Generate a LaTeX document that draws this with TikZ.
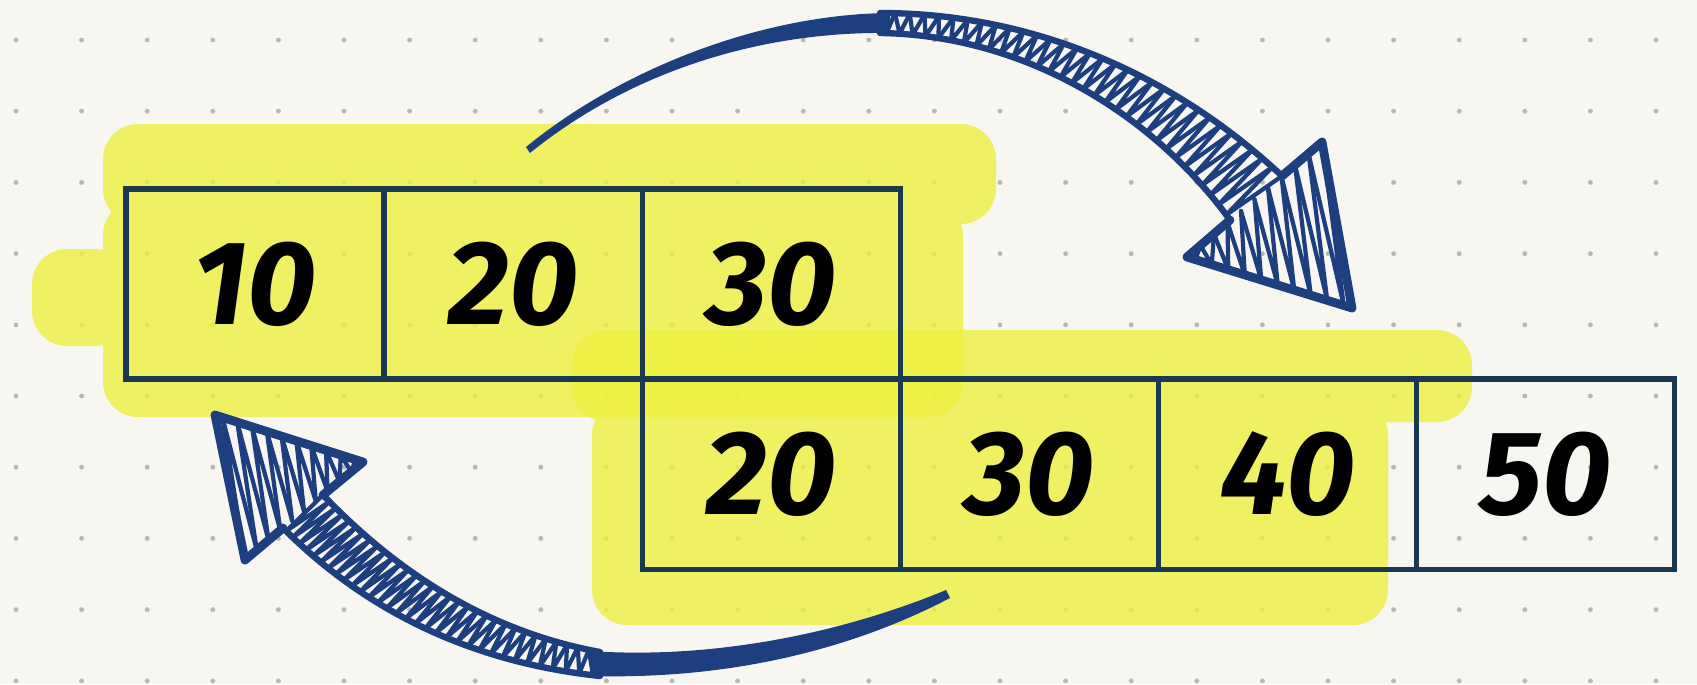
\documentclass[tikz,border=0pt]{standalone}
\usepackage{fontspec}
\newfontfamily\handfont{Fira Sans}
\usetikzlibrary{positioning, calc}
\definecolor{paper}{HTML}{F7F6F1}
\definecolor{griddot}{HTML}{B8B8B8}
\definecolor{marker}{HTML}{EDF040}
\definecolor{inkbox}{HTML}{1A3850}
\definecolor{inkarrow}{HTML}{1D3F80}

\begin{document}
\begin{tikzpicture}[
    x=0.01cm, y=-0.01cm,
    cell/.style={draw=inkbox, line width=1.5pt, outer sep=0pt, inner sep=0pt, minimum width=2.58cm, minimum height=1.9cm, font=\handfont\bfseries\itshape\fontsize{34}{40}\selectfont},
    highlight/.style={fill=marker, fill opacity=0.8, rounded corners=10pt},
    edge/.style={draw=inkarrow, line width=1.8pt, line cap=round},
    hatch/.style={draw=inkarrow, line width=1.2pt, line cap=round, line join=round},
    head/.style={draw=inkarrow, line width=2.5pt, line join=round, line cap=round},
]
    % paper with dot grid
    \fill[paper, use as bounding box] (0,0) rectangle (1697,684);
    \foreach \i in {0,...,25}
        \foreach \j in {0,...,9}
            \fill[griddot] (16+65.6*\i, 40+71.2*\j) circle[radius=0.7pt];

    % marker strokes
    \fill[highlight] (103,124) rectangle (996,224) (103,200) rectangle (963,417) (32,249) rectangle (130,346);
    \fill[highlight] (572,330) rectangle (1472,422) (592,400) rectangle (1388,625);

    % the two rows
    \node[cell] (t1) at (255,284) {10};
    \node[cell, right=0pt of t1] (t2) {20};
    \node[cell, right=0pt of t2] (t3) {30};
    \node[cell, below=0pt of t3] (b1) {20};
    \node[cell, right=0pt of b1] (b2) {30};
    \node[cell, right=0pt of b2] (b3) {40};
    \node[cell, right=0pt of b3] (b4) {50};

    % top arrow
    \coordinate (th1) at (1187,257);
    \coordinate (th2) at (1322,142);
    \coordinate (ttip) at (1352,308);
    \fill[inkarrow] (526,147) .. controls (620,70) and (760,14) .. (890,13) -- (890,33) .. controls (760,31) and (630,72) .. (530,153) -- cycle;
    \draw[edge] (880,13) .. controls (1040,13) and (1180,80) .. (1282,176);
    \draw[edge] (880,33) .. controls (1020,35) and (1150,110) .. (1230,220);
    \foreach \k [evaluate=\k as \p using \k/64] in {0,...,64} {
        \path (880,13) .. controls (1040,13) and (1180,80) .. (1282,176) coordinate[pos=\p] (tu\k);
        \path (880,33) .. controls (1020,35) and (1150,110) .. (1230,220) coordinate[pos=\p] (tl\k);
    }
    \foreach \k [evaluate=\k as \n using int(\k+1), evaluate=\k as \m using int(\k+2)] in {0,2,...,62}
        \draw[hatch] (tu\k) -- (tl\n) -- (tu\m);
    \foreach \k [evaluate=\k as \p using \k/20, evaluate=\k as \q using (\k+1)/20, evaluate=\k as \r using (\k+2)/20] in {0,2,...,18}
        \draw[hatch] ($(th1)!\p!(th2)$) -- ($(th1)!\q!(ttip)$) -- ($(th1)!\r!(th2)$);
    \draw[head] (1230,220) -- (th1) -- (ttip) -- (th2) -- (1282,176);

    % bottom arrow
    \coordinate (bh1) at (363,462);
    \coordinate (bh2) at (245,560);
    \coordinate (btip) at (215,415);
    \fill[inkarrow] (946,590) .. controls (850,630) and (720,660) .. (590,651) -- (590,676) .. controls (740,680) and (860,645) .. (950,598) -- cycle;
    \draw[edge] (600,652) .. controls (480,630) and (390,565) .. (323,495);
    \draw[edge] (600,676) .. controls (450,660) and (350,595) .. (283,528);
    \foreach \k [evaluate=\k as \p using \k/64] in {0,...,64} {
        \path (600,652) .. controls (480,630) and (390,565) .. (323,495) coordinate[pos=\p] (bu\k);
        \path (600,676) .. controls (450,660) and (350,595) .. (283,528) coordinate[pos=\p] (bl\k);
    }
    \foreach \k [evaluate=\k as \n using int(\k+1), evaluate=\k as \m using int(\k+2)] in {0,2,...,62}
        \draw[hatch] (bu\k) -- (bl\n) -- (bu\m);
    \foreach \k [evaluate=\k as \p using \k/20, evaluate=\k as \q using (\k+1)/20, evaluate=\k as \r using (\k+2)/20] in {0,2,...,18}
        \draw[hatch] ($(bh1)!\p!(bh2)$) -- ($(bh1)!\q!(btip)$) -- ($(bh1)!\r!(bh2)$);
    \draw[head] (323,495) -- (bh1) -- (btip) -- (bh2) -- (283,528);
\end{tikzpicture}
\end{document}
